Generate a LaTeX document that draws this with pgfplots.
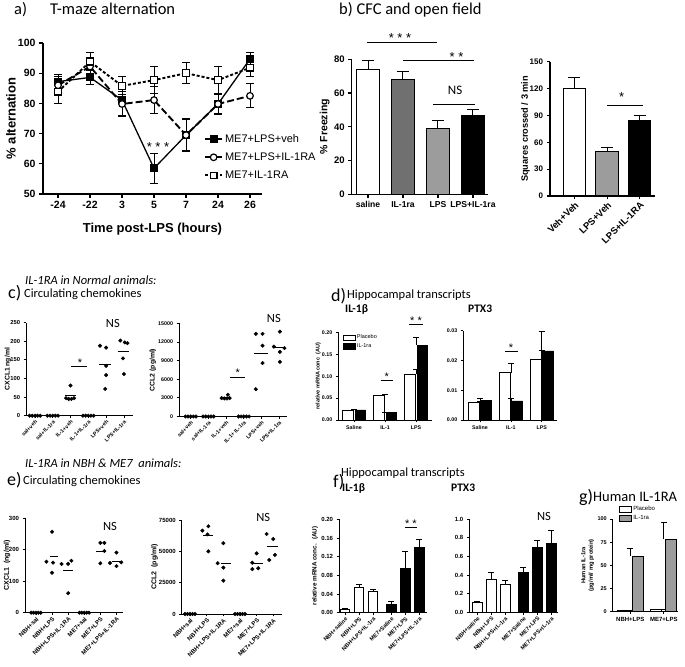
\documentclass[border=0pt]{standalone}
\usepackage{fontspec}
\setmainfont{Liberation Sans}
\newfontfamily\cali{Carlito}
\usepackage{pgfplots}
\pgfplotsset{compat=1.18}
\newcommand\fs[2]{\fontsize{#1}{#2}\selectfont}
\definecolor{dg}{gray}{0.44}
\definecolor{lg}{gray}{0.61}
\tikzset{
 sstar/.style={font=\fs{12bp}{12bp}, inner sep=0pt, anchor=base},
 nsl/.style={font=\cali\fs{12.5bp}{14bp}, inner sep=0pt, anchor=base},
}
\pgfplotsset{
 gp/.style={scale only axis, anchor=south west, axis x line*=bottom, axis y line*=left,
   tick align=outside, clip=false, enlargelimits=false, scaled y ticks=false, scaled x ticks=false,
   /pgf/number format/assume math mode=true, axis line style={-,line width=0.8bp},
   tick style={line width=0.8bp, black}, major tick length=2.5bp, minor tick num=0,
   legend cell align=left},
 yl/.style={ylabel style={at={(axis description cs:0,0.5)}, anchor=center, yshift=#1}},
 errp/.style 2 args={error bars/y dir=plus, error bars/y explicit,
   error bars/error bar style={line width=#1, solid},
   error bars/error mark options={rotate=90, mark size=#2, line width=#1, solid}},
 errb/.style 2 args={error bars/y dir=both, error bars/y explicit,
   error bars/error bar style={line width=#1, solid},
   error bars/error mark options={rotate=90, mark size=#2, line width=#1, solid}},
 bbar/.style 2 args={ybar, bar width=#1, bar shift=#2, draw=black},
 dots/.style={only marks, mark=*, mark size=1.8bp, black},
 boxleg/.style={legend image code/.code={\draw[##1] (0bp,-2.8bp) rectangle (12bp,2.8bp);}},
}
\newcommand\mline[3]{\addplot[black, line width=0.8bp, forget plot] coordinates {(#1,#3) (#2,#3)};}
\newcommand\zc[1]{\addplot[dots] coordinates {(#1-0.3,0) (#1-0.15,0) (#1,0) (#1+0.15,0) (#1+0.3,0)};}
\begin{document}
\begin{tikzpicture}[x=1bp,y=1bp]
\path[use as bounding box] (0,0) rectangle (685,667);
% ---------- titles
\node[anchor=base west, inner sep=0, font=\cali\fs{16.5bp}{18bp}] at (14,652) {a)};
\node[anchor=base west, inner sep=0, font=\cali\fs{16.5bp}{18bp}] at (50,652) {T-maze alternation};
\node[anchor=base west, inner sep=0, font=\cali\fs{16.5bp}{18bp}] at (339,652) {b) CFC and open field};
\node[anchor=base west, inner sep=0, font=\cali\itshape\fs{12.5bp}{15bp}] at (25,382) {IL-1RA in Normal animals:};
\node[anchor=base west, inner sep=0, font=\cali\fs{18bp}{20bp}] at (8,368) {c)};
\node[anchor=base west, inner sep=0, font=\cali\fs{12.5bp}{15bp}] at (24,369) {Circulating chemokines};
\node[anchor=base west, inner sep=0, font=\cali\fs{18bp}{20bp}] at (331,365) {d)};
\node[anchor=base west, inner sep=0, font=\cali\fs{12.5bp}{15bp}] at (347,368) {Hippocampal transcripts};
\node[anchor=base west, inner sep=0, font=\cali\bfseries\fs{11.5bp}{13bp}] at (345,354) {IL-1β};
\node[anchor=base west, inner sep=0, font=\cali\bfseries\fs{11.5bp}{13bp}] at (468,354) {PTX3};
\node[anchor=base west, inner sep=0, font=\cali\itshape\fs{12.5bp}{15bp}] at (25,199) {IL-1RA in NBH \& ME7~ animals:};
\node[anchor=base west, inner sep=0, font=\cali\fs{18bp}{20bp}] at (7,181) {e)};
\node[anchor=base west, inner sep=0, font=\cali\fs{12.5bp}{15bp}] at (23,182) {Circulating chemokines};
\node[anchor=base west, inner sep=0, font=\cali\fs{18bp}{20bp}] at (333,179) {f)};
\node[anchor=base west, inner sep=0, font=\cali\fs{12.5bp}{15bp}] at (341,190) {Hippocampal transcripts};
\node[anchor=base west, inner sep=0, font=\cali\bfseries\fs{11.5bp}{13bp}] at (342,175) {IL-1β};
\node[anchor=base west, inner sep=0, font=\cali\bfseries\fs{11.5bp}{13bp}] at (451,175) {PTX3};
\node[anchor=base west, inner sep=0, font=\cali\fs{18bp}{20bp}] at (579,164) {g)};
\node[anchor=base west, inner sep=0, font=\cali\fs{14.5bp}{16bp}] at (593,165) {Human IL-1RA};

% ---------- a) T-maze
\begin{axis}[gp, at={(43bp,473bp)}, width=219bp, height=151bp,
 xmin=-0.47, xmax=6.375, ymin=50, ymax=100,
 xtick={0,...,6}, xticklabels={-24,-22,3,5,7,24,26}, ytick={50,60,...,100},
 axis line style={line width=1.2bp}, tick style={line width=1.2bp}, major tick length=4bp,
 ticklabel style={font=\bfseries\fs{10.5bp}{12bp}},
 xlabel={Time post-LPS (hours)}, ylabel={\% alternation}, yl=32bp,
 label style={font=\bfseries\fs{13bp}{15bp}}, xlabel style={yshift=-7bp},
 legend style={at={(0.735,0.41)}, anchor=north west, draw=none, fill=none,
   font=\fs{11bp}{13bp}, row sep=5bp, inner sep=0pt}]
\addplot[black, line width=1.3bp, mark=square*, mark size=3.3bp, errb={1bp}{4bp}]
 table[x=x, y=y, y error=e] {
x y e
0 87.2 2.5
1 88.6 2.5
2 81.1 5
3 58.5 5
4 69.5 5.5
5 79.8 3.5
6 94.7 2
};
\addlegendentry{ME7+LPS+veh}
\addplot[black, line width=1.9bp, dash pattern=on 7bp off 3bp, mark=*, mark size=3.3bp,
 mark options={solid, fill=white, line width=1.2bp}, errb={1bp}{4bp}]
 table[x=x, y=y, y error=e] {
x y e
0 86.0 3
1 92.2 3
2 79.8 4
3 81.1 4.5
4 69.5 5
5 79.8 3
6 82.5 4
};
\addlegendentry{ME7+LPS+IL-1RA}
\addplot[black, line width=1.9bp, dash pattern=on 3bp off 2bp, mark=square*, mark size=3.3bp,
 mark options={solid, fill=white, line width=1.2bp}, errb={1bp}{4bp}]
 table[x=x, y=y, y error=e] {
x y e
0 83.9 4
1 93.8 3
2 85.8 3
3 87.7 4.5
4 90.0 3.5
5 87.7 4.5
6 91.8 3
};
\addlegendentry{ME7+IL-1RA}
\node[sstar, font=\fs{13bp}{13bp}] at (axis cs:3.125,64.1) {* * *};
\end{axis}

% ---------- b) left CFC
\begin{axis}[gp, at={(351.7bp,472.7bp)}, width=136.3bp, height=135bp,
 xmin=-0.466, xmax=3.43, ymin=0, ymax=80, ytick={0,20,40,60,80},
 xtick={0,1,2,3}, xticklabels={saline,IL-1ra,LPS,LPS+IL-1ra},
 axis line style={line width=1.1bp}, tick style={line width=1.1bp}, major tick length=3.5bp,
 yticklabel style={font=\bfseries\fs{9.5bp}{11bp}},
 xticklabel style={font=\bfseries\fs{8.6bp}{10bp}},
 ylabel={\% Freezing}, yl=27bp, label style={font=\bfseries\fs{10.5bp}{12bp}}]
\addplot[bbar={23bp}{0pt}, fill=white, line width=1bp, errp={1bp}{6bp}] coordinates {(0,74.2) +- (0,5.0)};
\addplot[bbar={23bp}{0pt}, fill=dg, line width=1bp, errp={1bp}{6bp}] coordinates {(1,68.1) +- (0,4.5)};
\addplot[bbar={23bp}{0pt}, fill=lg, line width=1bp, errp={1bp}{6bp}] coordinates {(2,39.1) +- (0,4.5)};
\addplot[bbar={23bp}{0pt}, fill=black, line width=1bp, errp={1bp}{6bp}] coordinates {(3,46.4) +- (0,4.0)};
\draw[line width=1bp] (axis cs:-0.04,89.8) -- (axis cs:1.98,89.8);
\node[sstar, font=\fs{13bp}{13bp}] at (axis cs:0.914,90.0) {* * *};
\draw[line width=1bp] (axis cs:1.0,79) -- (axis cs:3.03,79);
\node[sstar, font=\fs{13bp}{13bp}] at (axis cs:2.53,78.8) {* *};
\draw[line width=1bp] (axis cs:1.86,53.5) -- (axis cs:3.06,53.5);
\node[nsl, font=\cali\fs{13bp}{14bp}] at (axis cs:2.49,59.4) {NS};
\end{axis}

% ---------- b) right open field
\begin{axis}[gp, at={(550bp,471bp)}, width=105bp, height=134.3bp,
 xmin=-0.75, xmax=2.47, ymin=0, ymax=150, ytick={0,30,...,150},
 xtick={0,1,2}, xticklabels={Veh+Veh,LPS+Veh,LPS+IL-1RA},
 axis line style={line width=1.1bp}, tick style={line width=1.1bp}, major tick length=3.5bp,
 yticklabel style={font=\bfseries\fs{8bp}{10bp}},
 xticklabel style={font=\bfseries\fs{9.5bp}{11bp}, rotate=45, anchor=north east, inner sep=1bp},
 ylabel={Squares crossed / 3 min}, yl=24.5bp, label style={font=\bfseries\fs{9.2bp}{11bp}}]
\addplot[bbar={22.5bp}{0pt}, fill=white, line width=1bp, errp={1bp}{6bp}] coordinates {(0,120.3) +- (0,12.3)};
\addplot[bbar={22.5bp}{0pt}, fill=lg, line width=1bp, errp={1bp}{6bp}] coordinates {(1,49.5) +- (0,4.5)};
\addplot[bbar={22.5bp}{0pt}, fill=black, line width=1bp, errp={1bp}{6bp}] coordinates {(2,84.1) +- (0,5.6)};
\draw[line width=1bp] (axis cs:1.0,101.6) -- (axis cs:2.09,101.6);
\node[sstar, font=\fs{13bp}{13bp}] at (axis cs:1.45,105.2) {*};
\end{axis}

% ---------- c) left CXCL1
\begin{axis}[gp, at={(26bp,251.3bp)}, width=106.8bp, height=93bp,
 xmin=-0.5, xmax=5.5, ymin=0, ymax=250, ytick={0,50,...,250},
 xtick={0,...,5}, xticklabels={sal+veh,sal+IL-1ra,IL-1+veh,IL-1+IL-1ra,LPS+veh,LPS+IL-1ra},
 yticklabel style={font=\bfseries\fs{5.8bp}{7bp}},
 xticklabel style={font=\bfseries\fs{5.3bp}{6.5bp}, rotate=45, anchor=north east, inner sep=1bp},
 ylabel={CXCL1 ng/ml}, yl=18bp, label style={font=\bfseries\fs{6.8bp}{8bp}}]
\zc{0} \zc{1} \zc{3}
\addplot[dots] coordinates {(2.0,81) (1.75,47) (1.9,45) (2.05,45) (2.2,47)};
\addplot[dots] coordinates {(3.66,188) (4.0,183) (4.0,134) (4.0,109) (3.95,72)};
\addplot[dots] coordinates {(4.8,202) (5.05,197) (5.2,195) (4.95,154) (5.0,112)};
\mline{1.7}{2.3}{55} \mline{3.6}{4.3}{138} \mline{4.65}{5.3}{172}
\draw[line width=0.8bp] (axis cs:2.02,133.6) -- (axis cs:2.9,133.6);
\node[sstar, font=\fs{11bp}{11bp}] at (axis cs:2.53,132.8) {*};
\node[nsl] at (axis cs:4.38,237.6) {NS};
\end{axis}

% ---------- c) right CCL2
\begin{axis}[gp, at={(179bp,250.5bp)}, width=107.6bp, height=93.2bp,
 xmin=-0.66, xmax=5.42, ymin=0, ymax=15000, ytick={0,3000,...,15000},
 yticklabels={0,3000,6000,9000,12000,15000},
 xtick={0,...,5}, xticklabels={sal+veh,sal+IL-1ra,IL-1+veh,IL-1+ IL-1ra,LPS+veh,LPS+IL-1ra},
 yticklabel style={font=\bfseries\fs{5.3bp}{6.5bp}},
 xticklabel style={font=\bfseries\fs{5.3bp}{6.5bp}, rotate=45, anchor=north east, inner sep=1bp},
 ylabel={CCL2 (pg/ml)}, yl=26bp, label style={font=\bfseries\fs{6.8bp}{8bp}}]
\zc{0} \zc{1} \zc{3}
\addplot[dots] coordinates {(2.1,3500) (1.75,2950) (1.9,2900) (2.05,2900) (2.2,2950)};
\addplot[dots] coordinates {(3.68,13300) (4.06,13300) (4.06,11400) (4.06,8600) (3.68,4400)};
\addplot[dots] coordinates {(5.04,13650) (4.7,11250) (5.3,11000) (5.04,10400) (5.04,8800)};
\mline{1.7}{2.3}{3100} \mline{3.6}{4.35}{10200} \mline{4.7}{5.35}{11200}
\draw[line width=0.8bp] (axis cs:2.22,6310) -- (axis cs:3.07,6310);
\node[sstar, font=\fs{11bp}{11bp}] at (axis cs:2.66,6357) {*};
\node[nsl] at (axis cs:4.7,15097) {NS};
\end{axis}

% ---------- d) left IL-1b
\begin{axis}[gp, at={(338.3bp,247bp)}, width=93.4bp, height=87.5bp,
 xmin=-0.506, xmax=2.506, ymin=0, ymax=0.2, ytick={0,0.05,0.1,0.15,0.2},
 yticklabels={0.00,0.05,0.10,0.15,0.20},
 xtick={0,1,2}, xticklabels={Saline,IL-1,LPS},
 ticklabel style={font=\bfseries\fs{5.3bp}{6bp}},
 ylabel={relative mRNA conc~ (AU)}, yl=20bp, label style={font=\bfseries\fs{5.5bp}{6.5bp}},
 boxleg, legend style={at={(0.05,0.985)}, anchor=north west, draw=none, fill=none,
   font=\fs{5.5bp}{6.5bp}, row sep=1.5bp, inner sep=0pt, nodes={inner sep=1bp}}]
\addplot[bbar={10.5bp}{-6.3bp}, fill=white, line width=0.8bp, errp={0.8bp}{3bp}]
 coordinates {(0,0.022) +- (0,0.002) (1,0.057) +- (0,0.0015) (2,0.105) +- (0,0.011)};
\addlegendentry{Placebo}
\addplot[bbar={10.5bp}{6.3bp}, fill=black, line width=0.8bp, errp={0.8bp}{3bp}]
 coordinates {(0,0.023) +- (0,0.002) (1,0.0175) +- (0,0.001) (2,0.171) +- (0,0.018)};
\addlegendentry{IL-1ra}
\draw[line width=0.8bp] (axis cs:0.86,0.0914) -- (axis cs:1.27,0.0914);
\node[sstar, font=\fs{11bp}{11bp}] at (axis cs:1.06,0.0913) {*};
\draw[line width=0.8bp] (axis cs:1.78,0.2187) -- (axis cs:2.22,0.2187);
\node[sstar, font=\fs{11bp}{11bp}] at (axis cs:2.0,0.218) {* *};
\end{axis}

% ---------- d) right PTX3
\begin{axis}[gp, at={(463.3bp,247bp)}, width=93.4bp, height=89.3bp,
 xmin=-0.54, xmax=2.48, ymin=0, ymax=0.03, ytick={0,0.01,0.02,0.03},
 yticklabels={0.00,0.01,0.02,0.03},
 xtick={0,1,2}, xticklabels={Saline,IL-1,LPS},
 ticklabel style={font=\bfseries\fs{5.3bp}{6bp}}]
\addplot[bbar={11bp}{-6.2bp}, fill=white, line width=0.8bp, errp={0.8bp}{3bp}]
 coordinates {(0,0.0058) +- (0,0.0006) (1,0.0159) +- (0,0.0031) (2,0.0204) +- (0,0.0031)};
\addplot[bbar={11bp}{6.2bp}, fill=black, line width=0.8bp, errp={0.8bp}{3bp}]
 coordinates {(0,0.0067) +- (0,0.0006) (1,0.0064) +- (0,0.0007) (2,0.0232) +- (0,0.0067)};
\draw[line width=0.8bp] (axis cs:0.81,0.0232) -- (axis cs:1.22,0.0232);
\node[sstar, font=\fs{11bp}{11bp}] at (axis cs:1.0,0.0231) {*};
\end{axis}

% ---------- e) left CXCL1
\begin{axis}[gp, at={(25bp,54.3bp)}, width=97.9bp, height=94.4bp,
 xmin=-0.68, xmax=5.4, ymin=0, ymax=300, ytick={0,100,200,300},
 xtick={0,...,5}, xticklabels={NBH+sal,NBH+LPS,NBH+LPS+IL-1RA,ME7+sal,ME7+LPS,ME7+LPS+IL-1RA},
 yticklabel style={font=\bfseries\fs{6bp}{7bp}},
 xticklabel style={font=\bfseries\fs{6bp}{7bp}, rotate=45, anchor=north east, inner sep=1bp},
 ylabel={CXCL1~ (ng/ml)}, yl=18bp, label style={font=\bfseries\fs{7bp}{8.5bp}}]
\zc{0} \zc{3}
\addplot[dots] coordinates {(1,257) (0.65,162) (1.06,159) (1,127)};
\addplot[dots] coordinates {(1.59,155) (2,155) (2.2,165) (2,62)};
\addplot[dots] coordinates {(4,222) (4.25,222) (4.25,196) (4,157)};
\addplot[dots] coordinates {(5,191) (4.6,158) (5,148) (5.3,160)};
\mline{0.9}{1.4}{178} \mline{1.7}{2.3}{134} \mline{3.75}{4.35}{196} \mline{4.7}{5.3}{164}
\node[nsl] at (axis cs:4.6,262.8) {NS};
\end{axis}

% ---------- e) right CCL2
\begin{axis}[gp, at={(181.7bp,53bp)}, width=99.9bp, height=94bp,
 xmin=-0.5, xmax=5.5, ymin=0, ymax=75000, ytick={0,25000,50000,75000},
 yticklabels={0,25000,50000,75000},
 xtick={0,...,5}, xticklabels={NBH+sal,NBH+LPS,NBH+LPS+IL-1RA,ME7+sal,ME7+LPS,ME7+LPS+IL-1RA},
 yticklabel style={font=\bfseries\fs{6bp}{7bp}},
 xticklabel style={font=\bfseries\fs{6bp}{7bp}, rotate=45, anchor=north east, inner sep=1bp},
 ylabel={CCL2~ (pg/ml)}, yl=27bp, label style={font=\bfseries\fs{7bp}{8.5bp}}]
\zc{0} \zc{3}
\addplot[dots] coordinates {(0.74,66500) (1.1,70000) (1.05,63500) (1.1,50000)};
\addplot[dots] coordinates {(2,56500) (1.66,40500) (2,37000) (2,26600)};
\addplot[dots] coordinates {(4,48400) (3.74,40900) (4.1,36500) (3.74,35800)};
\addplot[dots] coordinates {(4.6,63800) (5,59800) (5.1,47100) (4.76,43100)};
\mline{0.8}{1.4}{62500} \mline{1.86}{2.46}{40000} \mline{3.74}{4.4}{40400} \mline{4.6}{5.3}{53700}
\node[nsl] at (axis cs:4.4,73640) {NS};
\end{axis}

% ---------- f) left IL-1b
\begin{axis}[gp, at={(339bp,54.3bp)}, width=88.3bp, height=93.4bp,
 xmin=-0.43, xmax=5.88, ymin=0, ymax=0.2, ytick={0,0.04,0.08,0.12,0.16,0.2},
 yticklabels={0.00,0.04,0.08,0.12,0.16,0.20},
 xtick={0,1,2,3.3,4.3,5.3}, xticklabels={NBH+saline,NBH+LPS,NBH+LPS+IL-1ra,ME7+Saline,ME7+LPS,ME7+LPS+IL-1ra},
 yticklabel style={font=\bfseries\fs{6bp}{7bp}},
 xticklabel style={font=\bfseries\fs{5.6bp}{6.5bp}, rotate=45, anchor=north east, inner sep=1bp},
 ylabel={relative mRNA conc.~ (AU)}, yl=24bp, label style={font=\bfseries\fs{6.3bp}{7bp}}]
\addplot[bbar={9.5bp}{0pt}, fill=white, line width=0.8bp, errp={0.8bp}{3bp}]
 coordinates {(0,0.007) +- (0,0.0015) (1,0.054) +- (0,0.006) (2,0.045) +- (0,0.005)};
\addplot[bbar={9.5bp}{0pt}, fill=black, line width=0.8bp, errp={0.8bp}{3bp}]
 coordinates {(3.3,0.018) +- (0,0.0055) (4.3,0.094) +- (0,0.037) (5.3,0.14) +- (0,0.018)};
\draw[line width=0.8bp] (axis cs:4.29,0.182) -- (axis cs:5.16,0.182);
\node[sstar, font=\fs{11bp}{11bp}] at (axis cs:4.71,0.183) {* *};
\end{axis}

% ---------- f) right PTX3
\begin{axis}[gp, at={(469.3bp,54.7bp)}, width=88.9bp, height=93bp,
 xmin=-0.56, xmax=5.79, ymin=0, ymax=1, ytick={0,0.2,0.4,0.6,0.8,1},
 yticklabels={0.0,0.2,0.4,0.6,0.8,1.0},
 xtick={0,1,2,3.3,4.3,5.3}, xticklabels={NBH+saline,NBH+LPS,NBH+LPS+IL-1ra,ME7+Saline,ME7+LPS,ME7+LPS+IL-1ra},
 yticklabel style={font=\bfseries\fs{6bp}{7bp}},
 xticklabel style={font=\bfseries\fs{5.6bp}{6.5bp}, rotate=45, anchor=north east, inner sep=1bp}]
\addplot[bbar={9.5bp}{0pt}, fill=white, line width=0.8bp, errp={0.8bp}{3bp}]
 coordinates {(0,0.105) +- (0,0.015) (1,0.355) +- (0,0.075) (2,0.30) +- (0,0.04)};
\addplot[bbar={9.5bp}{0pt}, fill=black, line width=0.8bp, errp={0.8bp}{3bp}]
 coordinates {(3.3,0.425) +- (0,0.06) (4.3,0.70) +- (0,0.075) (5.3,0.745) +- (0,0.135)};
\node[nsl] at (axis cs:4.77,0.992) {NS};
\end{axis}

% ---------- g) Human IL-1RA
\begin{axis}[gp, at={(612.7bp,55.3bp)}, width=65.5bp, height=92.7bp,
 xmin=-0.525, xmax=1.43, ymin=0, ymax=100, ytick={0,25,50,75,100},
 xtick={0,1}, xticklabels={NBH+LPS,ME7+LPS},
 yticklabel style={font=\bfseries\fs{5.5bp}{6.5bp}},
 xticklabel style={font=\bfseries\fs{6bp}{7bp}},
 ylabel={Human IL-1ra\\(pg/ml/ mg protein)}, yl=25bp, label style={font=\bfseries\fs{5.8bp}{7.5bp}, align=center},
 boxleg, legend style={at={(0.1,1.15)}, anchor=north west, draw=none, fill=none,
   font=\fs{6bp}{7bp}, row sep=1.5bp, inner sep=0pt, nodes={inner sep=1bp}}]
\addplot[bbar={11bp}{-7.5bp}, fill=white, line width=0.8bp, errp={0.8bp}{3bp}]
 coordinates {(0,1.8) +- (0,0) (1,2.2) +- (0,0)};
\addlegendentry{Placebo}
\addplot[bbar={11bp}{7.5bp}, fill=lg, line width=0.8bp, errp={0.8bp}{3bp}]
 coordinates {(0,60) +- (0,8.4) (1,78) +- (0,18.4)};
\addlegendentry{IL-1ra}
\end{axis}
\end{tikzpicture}
\end{document}
